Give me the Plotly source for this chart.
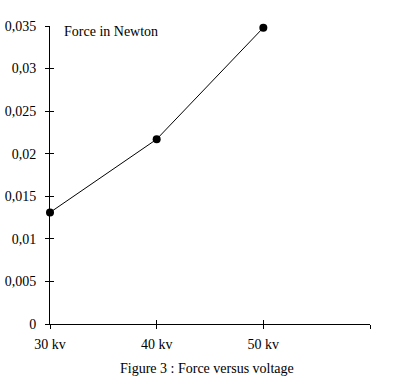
import plotly.graph_objects as go

voltage_kv = [30, 40, 50]
force_newton = [0.0131, 0.0217, 0.0348]
x_tick_vals = [30, 40, 50, 60]
x_tick_text = ["30 kv", "40 kv", "50 kv", ""]
y_tick_vals = [0, 0.005, 0.01, 0.015, 0.02, 0.025, 0.03, 0.035]
y_tick_text = ["0", "0,005", "0,01", "0,015", "0,02", "0,025", "0,03", "0,035"]

FONT = "Liberation Serif, Times New Roman, serif"

fig = go.Figure()
fig.add_trace(go.Scatter(
    x=voltage_kv, y=force_newton, mode="lines+markers",
    line=dict(color="black", width=1),
    marker=dict(color="black", size=8),
    showlegend=False, hoverinfo="skip", cliponaxis=False,
))
# dummy trace for overlay axes (inner half of the crossing ticks)
fig.add_trace(go.Scatter(x=[None], y=[None], xaxis="x2", yaxis="y2", showlegend=False))

common_x = dict(range=[30, 60], tickvals=x_tick_vals, showgrid=False, zeroline=False,
                ticklen=4, tickwidth=1, tickcolor="black", fixedrange=True, automargin=False)
common_y = dict(range=[0, 0.035], tickvals=y_tick_vals, showgrid=False, zeroline=False,
                ticklen=4, tickwidth=1, tickcolor="black", fixedrange=True, automargin=False)

fig.update_layout(
    width=401, height=384,
    margin=dict(l=50, r=31, t=26, b=60),
    paper_bgcolor="white", plot_bgcolor="white",
    font=dict(family=FONT, size=14, color="black"),
    xaxis=dict(**common_x, ticktext=x_tick_text, ticks="outside",
               showline=True, linecolor="black", linewidth=1, ticklabelstandoff=3),
    yaxis=dict(**common_y, ticktext=y_tick_text, ticks="outside",
               showline=True, linecolor="black", linewidth=1, ticklabelstandoff=6),
    xaxis2=dict(**common_x, overlaying="x", side="bottom", ticks="inside",
                showticklabels=False, showline=False, anchor="y2"),
    yaxis2=dict(**common_y, overlaying="y", side="left", ticks="inside",
                showticklabels=False, showline=False, anchor="x2"),
    annotations=[
        dict(text="Force in Newton", xref="paper", yref="paper", x=0.038, y=0.983,
             xanchor="left", yanchor="middle", showarrow=False, font=dict(size=14)),
        dict(text="Figure 3 : Force versus voltage", xref="paper", yref="paper",
             x=0.49, y=-0.148, xanchor="center", yanchor="middle", showarrow=False,
             font=dict(size=14)),
    ],
)

fig.write_html("out.html", config={"displayModeBar": False, "staticPlot": True},
               post_script="document.body.style.margin='0';")
